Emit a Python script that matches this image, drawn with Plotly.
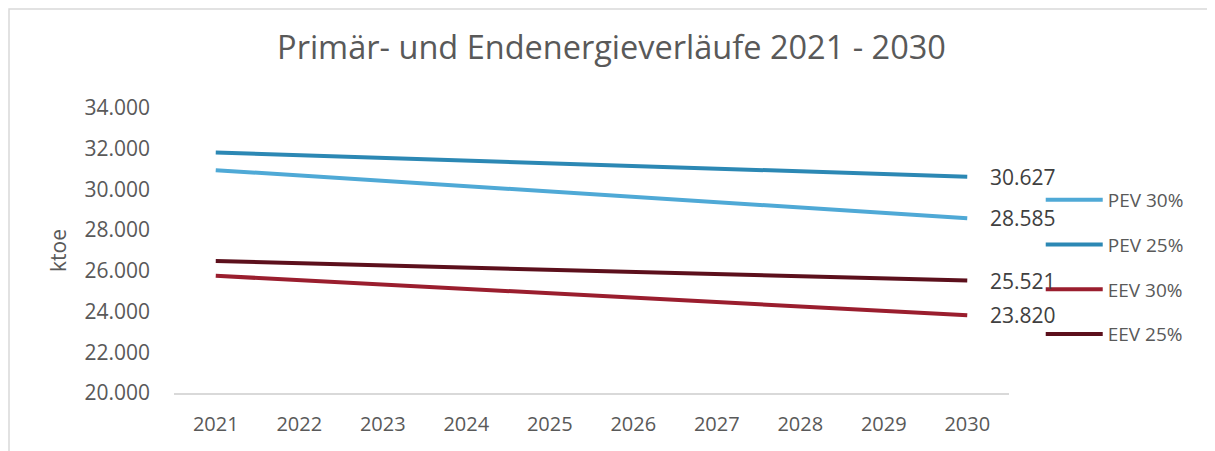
import plotly.graph_objects as go

years = ["2021", "2022", "2023", "2024", "2025", "2026", "2027", "2028", "2029", "2030"]
pev_30 = [30947, 30685, 30422, 30160, 29897, 29635, 29372, 29110, 28847, 28585]
pev_25 = [31813, 31681, 31549, 31418, 31286, 31154, 31022, 30891, 30759, 30627]
eev_30 = [25759, 25544, 25328, 25113, 24898, 24682, 24467, 24251, 24036, 23820]
eev_25 = [26482, 26375, 26268, 26162, 26055, 25948, 25841, 25734, 25628, 25521]

series = [
    ("PEV 30%", pev_30, "#4FA9D6"),
    ("PEV 25%", pev_25, "#2C88B4"),
    ("EEV 30%", eev_30, "#9A1E2E"),
    ("EEV 25%", eev_25, "#5C101C"),
]

FONT = "Open Sans"

fig = go.Figure()
annotations = []
last_idx = len(years) - 1
for name, vals, color in series:
    fig.add_trace(go.Scatter(
        x=years, y=vals, name=name, mode="lines",
        line=dict(color=color, width=4),
        legendgroup=name,
    ))
    annotations.append(dict(
        x=last_idx, y=vals[-1], xref="x", yref="y",
        text=f"{vals[-1]:,}".replace(",", "."),
        showarrow=False, xanchor="left", yanchor="middle", xshift=21,
        font=dict(family=FONT, size=21, color="#404040"),
    ))

fig.update_layout(
    width=1207, height=443,
    margin=dict(l=166, r=206, t=100.3, b=58.3),
    paper_bgcolor="white", plot_bgcolor="white",
    separators=",.",
    title=dict(text="Primär- und Endenergieverläufe 2021 - 2030",
               x=0.5, xanchor="center", xref="container",
               y=0.91, yanchor="middle", yref="container",
               font=dict(family=FONT, size=32.5, color="#595959")),
    font=dict(family=FONT, color="#595959"),
    showlegend=True,
    legend=dict(x=1.038, xanchor="left", y=0.744, yanchor="top",
                font=dict(family=FONT, size=19, color="#595959"),
                tracegroupgap=17, itemwidth=57, bgcolor="rgba(0,0,0,0)"),
    xaxis=dict(type="category", showgrid=False, showline=True,
               range=[-0.5, last_idx + 0.5],
               linecolor="#D9D9D9", linewidth=1.5, ticks="",
               ticklabelstandoff=12,
               tickfont=dict(family=FONT, size=20, color="#595959")),
    yaxis=dict(range=[20000, 34000], dtick=2000, tickformat=",.0f",
               showgrid=False, zeroline=False, showline=False, ticks="",
               ticklabelstandoff=23,
               tickfont=dict(family=FONT, size=21, color="#595959"),
               title=dict(text="ktoe", font=dict(family=FONT, size=21, color="#595959"),
                          standoff=12)),
    annotations=annotations,
    shapes=[dict(type="rect", xref="paper", yref="paper",
                 x0=-0.1976, x1=2.0, y0=-0.5, y1=1.347,
                 line=dict(color="#D9D9D9", width=1.5), fillcolor="rgba(0,0,0,0)")],
)

fig.write_html("out.html")
